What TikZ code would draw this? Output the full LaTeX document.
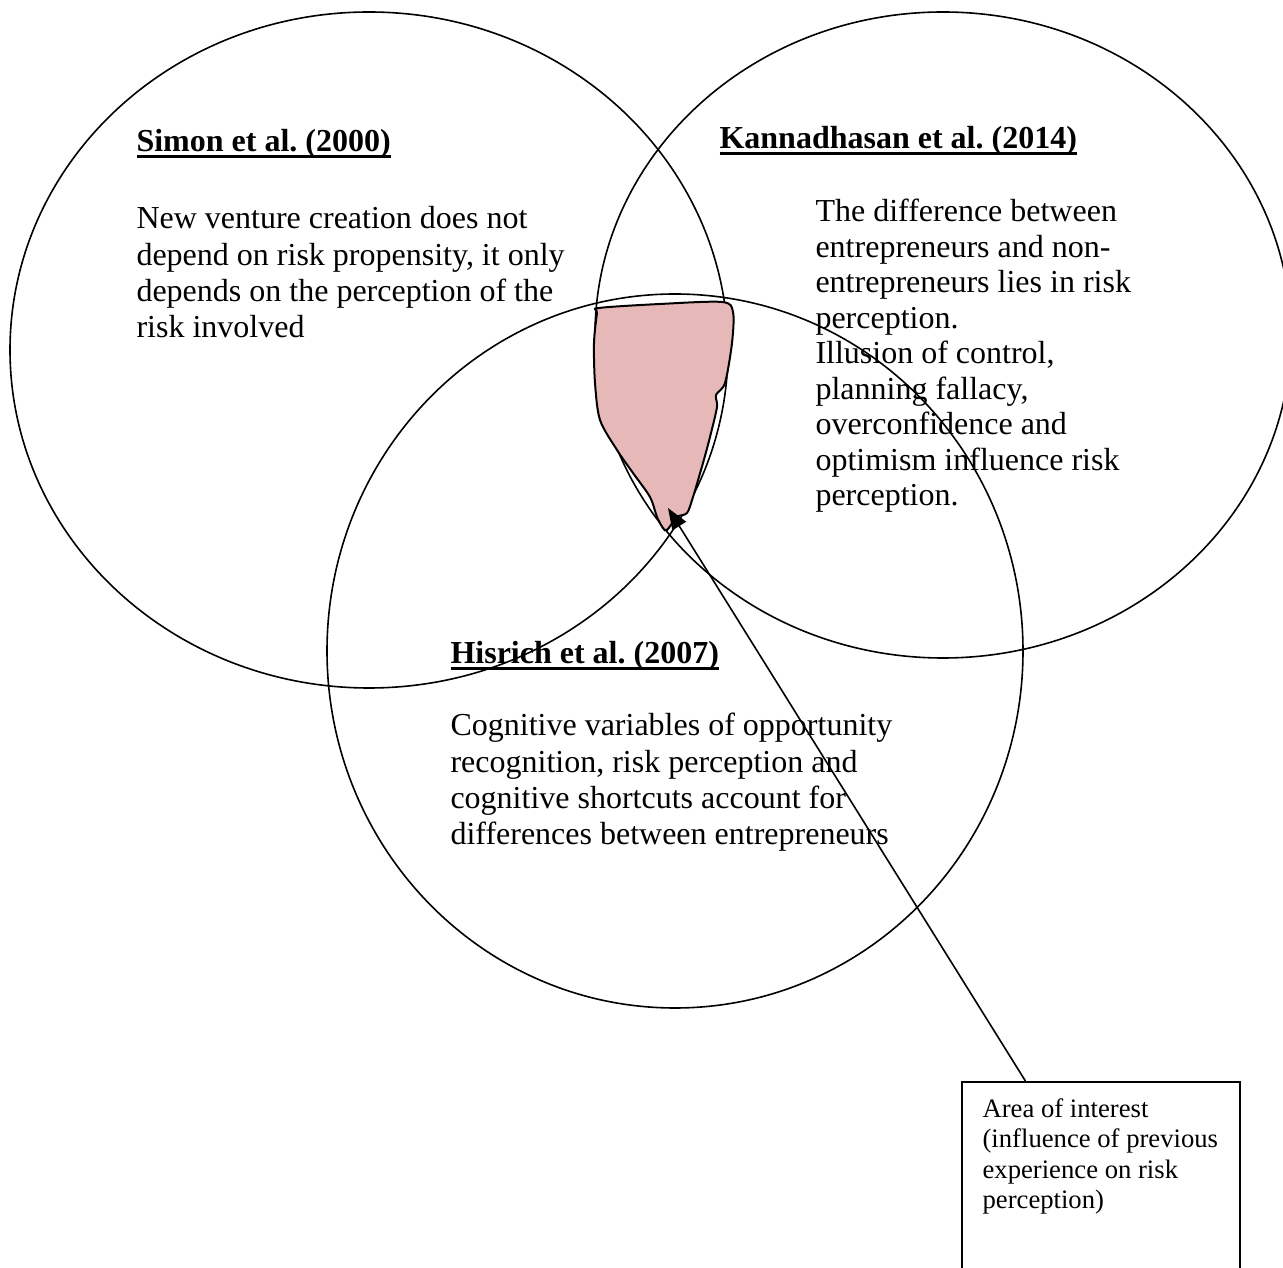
\documentclass[tikz,border=0pt]{standalone}
\usepackage{fontspec}
\setmainfont{Liberation Serif}
\usetikzlibrary{arrows.meta, positioning, calc}
\definecolor{blobpink}{RGB}{230,184,183}
\frenchspacing
\newcommand{\refhead}[1]{\setbox0=\hbox{\bfseries #1}\rlap{\rule[-2.4pt]{\wd0}{1.1pt}}\box0}

\begin{document}
\begin{tikzpicture}[
        x=0.375pt, y=-0.375pt,
        ring/.style={line width=0.6pt},
        head/.style={anchor=base west, inner sep=0pt, font=\fontsize{12}{13.6}\selectfont},
        body/.style={anchor=base west, inner sep=0pt, align=flush left, text width=190pt, font=\fontsize{12}{13.6}\selectfont},
        aoibox/.style={draw, line width=0.75pt, anchor=north west, minimum width=104.3pt, minimum height=80pt, inner sep=0pt},
        aoitxt/.style={inner sep=0pt, align=flush left, text width=95pt, font=\fontsize{10}{11.4}\selectfont},
        blob/.style={draw, line width=0.75pt, fill=blobpink},
        pointer/.style={-{Triangle[length=8pt,width=6pt]}, line width=0.6pt}
    ]
    \useasboundingbox (0,0) rectangle (1283,1268);

    % Circles
    \draw[ring] (369,350) ellipse [x radius=359, y radius=338];
    \draw[ring] (943,335) ellipse [x radius=348, y radius=323];
    \draw[ring] (675,651) ellipse [x radius=348, y radius=357];

    % Area of interest (shaded)
    \draw[blob] plot[smooth cycle, tension=0.5] coordinates {
        (599,308) (660,304) (722,302) (733,312) (732,343) (725,383)
        (716,395) (717,407) (710,437) (703,463) (693,497) (687,513)
        (677,517) (667,530) (663,528) (657,517) (650,497) (633,473)
        (617,450) (600,420) (595,383) (594,343) (597,313)};
    \coordinate (tip) at (668,508);

    % Headings
    \node[head] (simonhead) at (136,152) {\refhead{Simon et al. (2000)}};
    \node[head] (kannhead) at (719,149) {\refhead{Kannadhasan et al. (2014)}};
    \node[head] (hishead) at (450,664) {\refhead{Hisrich et al. (2007)}};

    % Findings
    \node[body] (simon) at (136,229) {New venture creation does not\\depend on risk propensity, it only\\depends on the perception of the\\risk involved};
    \node[body, font=\fontsize{12}{13.3}\selectfont] (kann) at (815,222) {The difference between\\entrepreneurs and non-\\entrepreneurs lies in risk\\perception.\\Illusion of control,\\planning fallacy,\\overconfidence and\\optimism influence risk\\perception.};
    \node[body] (hisrich) at (450,736) {Cognitive variables of opportunity\\recognition, risk perception and\\cognitive shortcuts account for\\differences between entrepreneurs};

    % Callout
    \node[aoibox] (aoi) at (961,1081) {};
    \node[aoitxt, below right=6.4pt and 7.9pt of aoi.north west] (aoitext) {Area of interest\\(influence of previous\\experience on risk\\perception)};

    % Edges
    \draw[pointer] ($(aoi.north west)!0.23!(aoi.north east)$) -- (tip);
\end{tikzpicture}
\end{document}
